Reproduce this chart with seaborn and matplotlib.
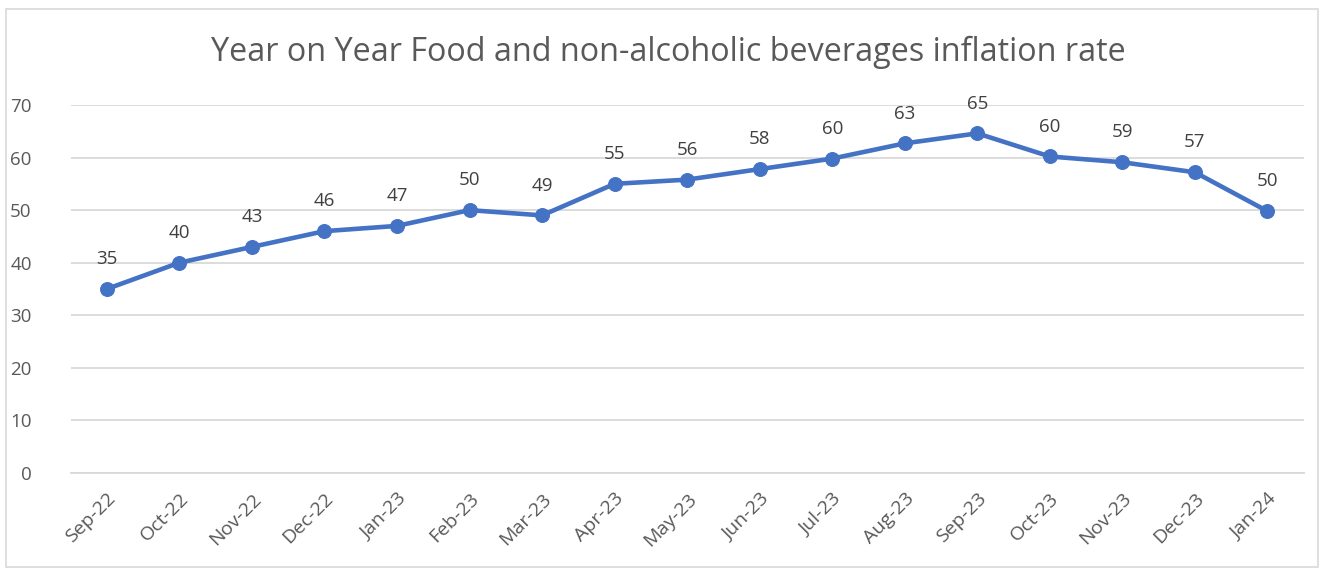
import matplotlib
matplotlib.use("Agg")
import matplotlib.pyplot as plt
import pandas as pd
import seaborn as sns
from matplotlib.patches import Rectangle

months = ["Sep-22", "Oct-22", "Nov-22", "Dec-22", "Jan-23", "Feb-23", "Mar-23", "Apr-23", "May-23",
          "Jun-23", "Jul-23", "Aug-23", "Sep-23", "Oct-23", "Nov-23", "Dec-23", "Jan-24"]
inflation = [35, 40, 43, 46, 47, 50, 49, 55, 55.8, 57.8, 59.8, 62.7, 64.6, 60.2, 59.1, 57.2, 49.8]
y_ticks = [0, 10, 20, 30, 40, 50, 60, 70]
title = "Year on Year Food and non-alcoholic beverages inflation rate"

df = pd.DataFrame({"month": months, "rate": inflation})
df["pos"] = range(len(df))

sns.set_theme(style="white")
plt.rcParams["font.family"] = ["Open Sans", "DejaVu Sans"]

grey = "#595959"
fig = plt.figure(figsize=(13.31, 5.73), dpi=100)
ax = fig.add_axes([0.053, 0.1745, 0.9265, 0.6423])

fig.patches.append(Rectangle((6 / 1331, 1 - 567 / 573), 1312 / 1331, 558 / 573, transform=fig.transFigure,
                             fill=False, edgecolor="#D9D9D9", linewidth=1.2))

sns.lineplot(data=df, x="pos", y="rate", ax=ax, color="#4472C4", linewidth=3.3,
             marker="o", markersize=10, markeredgecolor="#4472C4", zorder=3)

for x, y in zip(df["pos"], df["rate"]):
    ax.annotate(f"{y:.0f}", (x, y), xytext=(0, 15), textcoords="offset points",
                ha="center", va="bottom", fontsize=13.5, color="#404040")

ax.set_xlim(-0.5, len(months) - 0.5)
ax.set_ylim(0, 70)
ax.set_yticks(y_ticks)
ax.set_xticks(df["pos"])
ax.set_xticklabels(months, rotation=45, ha="right", rotation_mode="anchor")
ax.set_xticks([i - 0.5 for i in range(len(months) + 1)], minor=True)
ax.tick_params(axis="x", which="major", length=0, pad=12, labelsize=14, labelcolor=grey)
ax.tick_params(axis="x", which="minor", length=7, width=1.2, color="#D9D9D9", direction="out")
ax.tick_params(axis="y", length=0, pad=28, labelsize=13.5, labelcolor=grey)
for label in ax.get_yticklabels():
    label.set_horizontalalignment("right")
ax.yaxis.grid(True, color="#D9D9D9", linewidth=1.3)
ax.set_axisbelow(True)
for side in ["top", "right", "left"]:
    ax.spines[side].set_visible(False)
ax.spines["bottom"].set_color("#D9D9D9")
ax.spines["bottom"].set_linewidth(1.3)
ax.set_xlabel("")
ax.set_ylabel("")

fig.text(0.502, 1 - 52 / 573, title, ha="center", va="center", fontsize=23.3, color=grey)

fig.savefig("out.png", dpi=100)
